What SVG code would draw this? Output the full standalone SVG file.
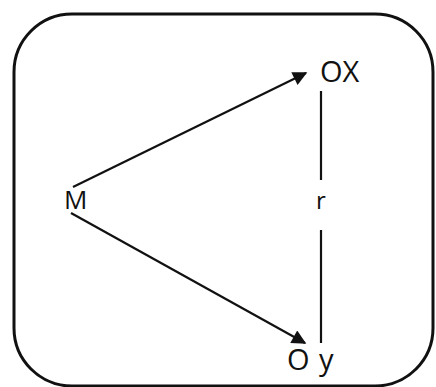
<svg xmlns="http://www.w3.org/2000/svg" width="436" height="387" viewBox="0 0 436 387">
<defs>
<style>
.lbl{font-family:"Open Sans","Liberation Sans",sans-serif;fill:#111}
.ln{stroke:#111;stroke-width:2.2;fill:none}
</style>
<marker id="ah" viewBox="0 0 10 10" refX="9" refY="5" markerWidth="8.5" markerHeight="6.5" orient="auto" markerUnits="strokeWidth">
<path d="M0,0 L10,5 L0,10 z" fill="#111"/>
</marker>
</defs>
<rect x="14" y="14" width="419" height="372" rx="58" ry="58" fill="#fff" stroke="#111" stroke-width="3"/>
<g id="connectors">
<line class="ln" x1="73" y1="187" x2="306" y2="73" marker-end="url(#ah)"/>
<line class="ln" x1="71" y1="213" x2="305" y2="343" marker-end="url(#ah)"/>
<line class="ln" x1="321" y1="91" x2="321" y2="180"/>
<line class="ln" x1="321" y1="230" x2="321" y2="343"/>
</g>
<g id="node-M"><text class="lbl" x="64" y="209" font-size="26">M</text></g>
<g id="node-OX"><text class="lbl" x="320" y="82" font-size="29">OX</text></g>
<g id="node-r"><text class="lbl" x="316" y="209" font-size="24">r</text></g>
<g id="node-Oy"><text class="lbl" x="287" y="370" font-size="29">O</text><text class="lbl" x="319" y="370" font-size="29">y</text></g>
</svg>
